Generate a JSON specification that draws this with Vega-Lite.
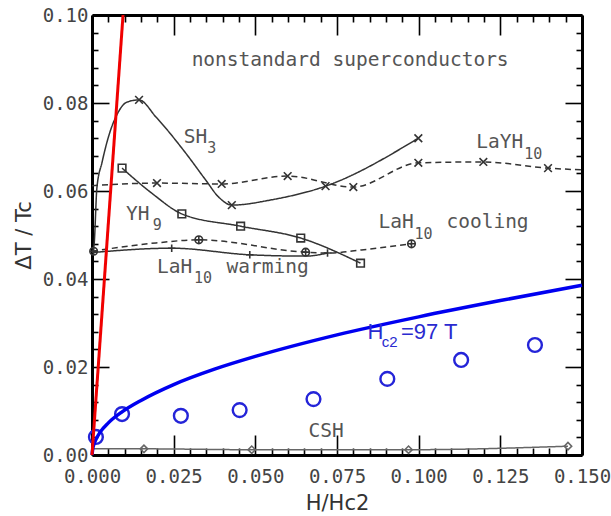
{
  "$schema": "https://vega.github.io/schema/vega-lite/v6.json",
  "width": 490,
  "height": 440,
  "padding": {"left": 13, "top": 6, "right": 22, "bottom": 2},
  "config": {
    "view": {"stroke": null},
    "axis": {
      "domainColor": "#000", "domainWidth": 3,
      "tickColor": "#000", "tickWidth": 1.6,
      "labelFont": "DejaVu Sans Mono", "labelFontSize": 19, "labelColor": "#444",
      "titleFont": "DejaVu Sans", "titleFontSize": 21, "titleFontWeight": "normal", "titleColor": "#333",
      "grid": false, "labelOverlap": false, "labelFlush": false, "labelBound": false
    }
  },
  "datasets": {
    "lines": [
      {"series": "SH3", "x": 0, "y": 0.046},
      {"series": "SH3", "x": 0.0006, "y": 0.0475},
      {"series": "SH3", "x": 0.0015, "y": 0.0607},
      {"series": "SH3", "x": 0.0031, "y": 0.0666},
      {"series": "SH3", "x": 0.0052, "y": 0.0727},
      {"series": "SH3", "x": 0.0076, "y": 0.0773},
      {"series": "SH3", "x": 0.0107, "y": 0.0802},
      {"series": "SH3", "x": 0.0144, "y": 0.0807},
      {"series": "SH3", "x": 0.0196, "y": 0.0768},
      {"series": "SH3", "x": 0.0287, "y": 0.0686},
      {"series": "SH3", "x": 0.0348, "y": 0.0625},
      {"series": "SH3", "x": 0.0388, "y": 0.0586},
      {"series": "SH3", "x": 0.0428, "y": 0.0568},
      {"series": "SH3", "x": 0.055, "y": 0.058},
      {"series": "SH3", "x": 0.0715, "y": 0.0611},
      {"series": "SH3", "x": 0.0999, "y": 0.072},
      {"series": "LaYH10", "x": 0, "y": 0.0612},
      {"series": "LaYH10", "x": 0.0199, "y": 0.0618},
      {"series": "LaYH10", "x": 0.0397, "y": 0.0616},
      {"series": "LaYH10", "x": 0.0599, "y": 0.0634},
      {"series": "LaYH10", "x": 0.08, "y": 0.0609},
      {"series": "LaYH10", "x": 0.0999, "y": 0.0664},
      {"series": "LaYH10", "x": 0.1198, "y": 0.0666},
      {"series": "LaYH10", "x": 0.1396, "y": 0.0652},
      {"series": "LaYH10", "x": 0.15, "y": 0.0648},
      {"series": "YH9", "x": 0.0092, "y": 0.0652},
      {"series": "YH9", "x": 0.0183, "y": 0.0595},
      {"series": "YH9", "x": 0.0275, "y": 0.0548},
      {"series": "YH9", "x": 0.0455, "y": 0.052},
      {"series": "YH9", "x": 0.0639, "y": 0.0493},
      {"series": "YH9", "x": 0.0822, "y": 0.0436},
      {"series": "LaH10 cooling", "x": 0, "y": 0.0463},
      {"series": "LaH10 cooling", "x": 0.0196, "y": 0.0482},
      {"series": "LaH10 cooling", "x": 0.0327, "y": 0.0489},
      {"series": "LaH10 cooling", "x": 0.0654, "y": 0.0461},
      {"series": "LaH10 cooling", "x": 0.0724, "y": 0.0459},
      {"series": "LaH10 cooling", "x": 0.0825, "y": 0.0466},
      {"series": "LaH10 cooling", "x": 0.0978, "y": 0.048},
      {"series": "LaH10 warming", "x": 0, "y": 0.046},
      {"series": "LaH10 warming", "x": 0.0244, "y": 0.047},
      {"series": "LaH10 warming", "x": 0.0483, "y": 0.0455},
      {"series": "LaH10 warming", "x": 0.0654, "y": 0.0452},
      {"series": "LaH10 warming", "x": 0.0721, "y": 0.0459},
      {"series": "CSH", "x": 0, "y": 0.0014},
      {"series": "CSH", "x": 0.0159, "y": 0.0014},
      {"series": "CSH", "x": 0.0489, "y": 0.0012},
      {"series": "CSH", "x": 0.0969, "y": 0.0012},
      {"series": "CSH", "x": 0.1457, "y": 0.002}
    ],
    "markers": [
      {"series": "SH3", "x": 0.0144, "y": 0.0807},
      {"series": "SH3", "x": 0.0428, "y": 0.0568},
      {"series": "SH3", "x": 0.0715, "y": 0.0611},
      {"series": "SH3", "x": 0.0999, "y": 0.072},
      {"series": "LaYH10", "x": 0.0199, "y": 0.0618},
      {"series": "LaYH10", "x": 0.0397, "y": 0.0616},
      {"series": "LaYH10", "x": 0.0599, "y": 0.0634},
      {"series": "LaYH10", "x": 0.08, "y": 0.0609},
      {"series": "LaYH10", "x": 0.0999, "y": 0.0664},
      {"series": "LaYH10", "x": 0.1198, "y": 0.0666},
      {"series": "LaYH10", "x": 0.1396, "y": 0.0652},
      {"series": "YH9", "x": 0.0092, "y": 0.0652},
      {"series": "YH9", "x": 0.0275, "y": 0.0548},
      {"series": "YH9", "x": 0.0455, "y": 0.052},
      {"series": "YH9", "x": 0.0639, "y": 0.0493},
      {"series": "YH9", "x": 0.0822, "y": 0.0436},
      {"series": "LaH10 cooling", "x": 0.0005, "y": 0.0463},
      {"series": "LaH10 cooling", "x": 0.0327, "y": 0.0489},
      {"series": "LaH10 cooling", "x": 0.0654, "y": 0.0461},
      {"series": "LaH10 cooling", "x": 0.0978, "y": 0.048},
      {"series": "LaH10 warming", "x": 0.0244, "y": 0.047},
      {"series": "LaH10 warming", "x": 0.0483, "y": 0.0455},
      {"series": "LaH10 warming", "x": 0.0721, "y": 0.0459},
      {"series": "CSH", "x": 0.0159, "y": 0.0014},
      {"series": "CSH", "x": 0.0489, "y": 0.0012},
      {"series": "CSH", "x": 0.0969, "y": 0.0012},
      {"series": "CSH", "x": 0.1457, "y": 0.002}
    ],
    "circles": [
      {"x": 0.0012, "y": 0.0041},
      {"x": 0.0092, "y": 0.0093},
      {"x": 0.0272, "y": 0.0089},
      {"x": 0.0452, "y": 0.0102},
      {"x": 0.0678, "y": 0.0127},
      {"x": 0.0904, "y": 0.0173},
      {"x": 0.113, "y": 0.0216},
      {"x": 0.1356, "y": 0.025}
    ],
    "hc2": [
      {"x": 0, "y": 0},
      {"x": 0.0003, "y": 0.0017},
      {"x": 0.001, "y": 0.0032},
      {"x": 0.0025, "y": 0.0052},
      {"x": 0.005, "y": 0.0073},
      {"x": 0.0092, "y": 0.0098},
      {"x": 0.015, "y": 0.0124},
      {"x": 0.025, "y": 0.016},
      {"x": 0.0375, "y": 0.0195},
      {"x": 0.05, "y": 0.0224},
      {"x": 0.075, "y": 0.0273},
      {"x": 0.1, "y": 0.0314},
      {"x": 0.125, "y": 0.0351},
      {"x": 0.15, "y": 0.0386}
    ],
    "red": [
      {"x": 0, "y": 0},
      {"x": 0.0095, "y": 0.1}
    ],
    "labels": [
      {"text": "nonstandard superconductors", "x": 0.0305, "y": 0.0898},
      {"text": "SH", "x": 0.0281, "y": 0.0723},
      {"text": "LaYH", "x": 0.1176, "y": 0.0711},
      {"text": "YH", "x": 0.0104, "y": 0.0548},
      {"text": "LaH", "x": 0.0877, "y": 0.053},
      {"text": "cooling", "x": 0.1085, "y": 0.053},
      {"text": "LaH", "x": 0.0199, "y": 0.0427},
      {"text": "warming", "x": 0.0412, "y": 0.0427},
      {"text": "CSH", "x": 0.0663, "y": 0.0055}
    ],
    "sublabels": [
      {"text": "3", "x": 0.0353, "y": 0.0698},
      {"text": "10", "x": 0.1323, "y": 0.0684},
      {"text": "9", "x": 0.0186, "y": 0.0523},
      {"text": "10", "x": 0.0987, "y": 0.0502},
      {"text": "10", "x": 0.0312, "y": 0.0403}
    ],
    "bluemain": [
      {"text": "H", "x": 0.0843, "y": 0.028},
      {"text": "=97 T", "x": 0.0946, "y": 0.028}
    ],
    "bluesub": [
      {"text": "c2", "x": 0.0887, "y": 0.0257}
    ]
  },
  "layer": [
    {
      "layer": [
        {
          "data": {"name": "lines"},
          "mark": {"type": "line", "interpolate": "monotone", "strokeWidth": 1.5},
          "encoding": {
            "x": {
              "field": "x", "type": "quantitative",
              "scale": {"domain": [0, 0.15], "nice": false},
              "axis": {
                "orient": "bottom",
                "title": "H/Hc2",
                "values": [0, 0.025, 0.05, 0.075, 0.1, 0.125, 0.15],
                "format": ".3f",
                "tickSize": -20,
                "labelPadding": 32,
                "titlePadding": 6
              }
            },
            "y": {
              "field": "y", "type": "quantitative",
              "scale": {"domain": [0, 0.1], "nice": false},
              "axis": {
                "orient": "left",
                "title": "ΔT / Tc",
                "values": [0, 0.02, 0.04, 0.06, 0.08, 0.1],
                "format": ".2f",
                "tickSize": -17,
                "labelPadding": 21,
                "titlePadding": 8
              }
            },
            "detail": {"field": "series"},
            "strokeDash": {
              "field": "series", "type": "nominal", "legend": null,
              "scale": {
                "domain": ["SH3", "LaYH10", "YH9", "LaH10 cooling", "LaH10 warming", "CSH"],
                "range": [[1, 0], [6, 4], [1, 0], [6, 4], [1, 0], [1, 0]]
              }
            },
            "color": {
              "field": "series", "type": "nominal", "legend": null,
              "scale": {
                "domain": ["SH3", "LaYH10", "YH9", "LaH10 cooling", "LaH10 warming", "CSH"],
                "range": ["#333333", "#333333", "#333333", "#333333", "#333333", "#666666"]
              }
            }
          }
        },
        {
          "data": {"name": "markers"},
          "mark": {"type": "point", "filled": false, "strokeWidth": 1.6, "opacity": 1},
          "encoding": {
            "x": {"field": "x", "type": "quantitative"},
            "y": {"field": "y", "type": "quantitative"},
            "shape": {
              "field": "series", "type": "nominal", "legend": null,
              "scale": {
                "domain": ["SH3", "LaYH10", "YH9", "LaH10 cooling", "LaH10 warming", "CSH"],
                "range": ["M-1,-1L1,1M-1,1L1,-1", "M-1,-1L1,1M-1,1L1,-1", "square", "M-1,0A1,1,0,1,1,1,0A1,1,0,1,1,-1,0M-1,0L1,0M0,-1L0,1", "M-1,0L1,0M0,-1L0,1", "diamond"]
              }
            },
            "size": {
              "field": "series", "type": "nominal", "legend": null,
              "scale": {
                "domain": ["SH3", "LaYH10", "YH9", "LaH10 cooling", "LaH10 warming", "CSH"],
                "range": [60, 55, 75, 80, 50, 30]
              }
            },
            "color": {
              "field": "series", "type": "nominal", "legend": null,
              "scale": {
                "domain": ["SH3", "LaYH10", "YH9", "LaH10 cooling", "LaH10 warming", "CSH"],
                "range": ["#333333", "#333333", "#333333", "#333333", "#333333", "#666666"]
              }
            }
          }
        },
        {
          "data": {"name": "circles"},
          "mark": {"type": "point", "shape": "circle", "filled": false, "size": 190, "strokeWidth": 2.4, "color": "#2424d8", "opacity": 1},
          "encoding": {
            "x": {"field": "x", "type": "quantitative"},
            "y": {"field": "y", "type": "quantitative"}
          }
        },
        {
          "data": {"name": "hc2"},
          "mark": {"type": "line", "interpolate": "monotone", "strokeWidth": 3.5, "color": "#0000f0"},
          "encoding": {
            "x": {"field": "x", "type": "quantitative"},
            "y": {"field": "y", "type": "quantitative"}
          }
        },
        {
          "data": {"name": "red"},
          "mark": {"type": "line", "strokeWidth": 3, "color": "#f00000"},
          "encoding": {
            "x": {"field": "x", "type": "quantitative"},
            "y": {"field": "y", "type": "quantitative"}
          }
        },
        {
          "data": {"name": "labels"},
          "mark": {"type": "text", "align": "left", "baseline": "middle", "font": "DejaVu Sans Mono", "fontSize": 19.5, "color": "#555555"},
          "encoding": {
            "x": {"field": "x", "type": "quantitative"},
            "y": {"field": "y", "type": "quantitative"},
            "text": {"field": "text"}
          }
        },
        {
          "data": {"name": "sublabels"},
          "mark": {"type": "text", "align": "left", "baseline": "middle", "font": "DejaVu Sans Mono", "fontSize": 15, "color": "#555555"},
          "encoding": {
            "x": {"field": "x", "type": "quantitative"},
            "y": {"field": "y", "type": "quantitative"},
            "text": {"field": "text"}
          }
        },
        {
          "data": {"name": "bluemain"},
          "mark": {"type": "text", "align": "left", "baseline": "middle", "font": "Liberation Sans", "fontSize": 22, "color": "#2a2ad0"},
          "encoding": {
            "x": {"field": "x", "type": "quantitative"},
            "y": {"field": "y", "type": "quantitative"},
            "text": {"field": "text"}
          }
        },
        {
          "data": {"name": "bluesub"},
          "mark": {"type": "text", "align": "left", "baseline": "middle", "font": "Liberation Sans", "fontSize": 15, "color": "#2a2ad0"},
          "encoding": {
            "x": {"field": "x", "type": "quantitative"},
            "y": {"field": "y", "type": "quantitative"},
            "text": {"field": "text"}
          }
        }
      ]
    },
    {
      "data": {"name": "circles"},
      "mark": {"type": "point", "opacity": 0},
      "encoding": {
        "x": {
          "field": "x", "type": "quantitative",
          "scale": {"domain": [0, 0.15], "nice": false},
          "axis": {"orient": "top", "title": null, "labels": false, "values": [0, 0.025, 0.05, 0.075, 0.1, 0.125, 0.15], "tickSize": -20}
        },
        "y": {
          "field": "y", "type": "quantitative",
          "scale": {"domain": [0, 0.1], "nice": false},
          "axis": {"orient": "right", "title": null, "labels": false, "values": [0, 0.02, 0.04, 0.06, 0.08, 0.1], "tickSize": -17}
        }
      }
    },
    {
      "data": {"name": "circles"},
      "mark": {"type": "point", "opacity": 0},
      "encoding": {
        "x": {
          "field": "x", "type": "quantitative",
          "scale": {"domain": [0, 0.15], "nice": false},
          "axis": {"orient": "bottom", "title": null, "labels": false, "domain": false, "values": [0.005, 0.01, 0.015, 0.02, 0.03, 0.035, 0.04, 0.045, 0.055, 0.06, 0.065, 0.07, 0.08, 0.085, 0.09, 0.095, 0.105, 0.11, 0.115, 0.12, 0.13, 0.135, 0.14, 0.145], "tickSize": -7}
        },
        "y": {
          "field": "y", "type": "quantitative",
          "scale": {"domain": [0, 0.1], "nice": false},
          "axis": {"orient": "left", "title": null, "labels": false, "domain": false, "values": [0.004, 0.008, 0.012, 0.016, 0.024, 0.028, 0.032, 0.036, 0.044, 0.048, 0.052, 0.056, 0.064, 0.068, 0.072, 0.076, 0.084, 0.088, 0.092, 0.096], "tickSize": -6}
        }
      }
    },
    {
      "data": {"name": "circles"},
      "mark": {"type": "point", "opacity": 0},
      "encoding": {
        "x": {
          "field": "x", "type": "quantitative",
          "scale": {"domain": [0, 0.15], "nice": false},
          "axis": {"orient": "top", "title": null, "labels": false, "domain": false, "values": [0.005, 0.01, 0.015, 0.02, 0.03, 0.035, 0.04, 0.045, 0.055, 0.06, 0.065, 0.07, 0.08, 0.085, 0.09, 0.095, 0.105, 0.11, 0.115, 0.12, 0.13, 0.135, 0.14, 0.145], "tickSize": -7}
        },
        "y": {
          "field": "y", "type": "quantitative",
          "scale": {"domain": [0, 0.1], "nice": false},
          "axis": {"orient": "right", "title": null, "labels": false, "domain": false, "values": [0.004, 0.008, 0.012, 0.016, 0.024, 0.028, 0.032, 0.036, 0.044, 0.048, 0.052, 0.056, 0.064, 0.068, 0.072, 0.076, 0.084, 0.088, 0.092, 0.096], "tickSize": -6}
        }
      }
    }
  ],
  "resolve": {"axis": {"x": "independent", "y": "independent"}}
}
